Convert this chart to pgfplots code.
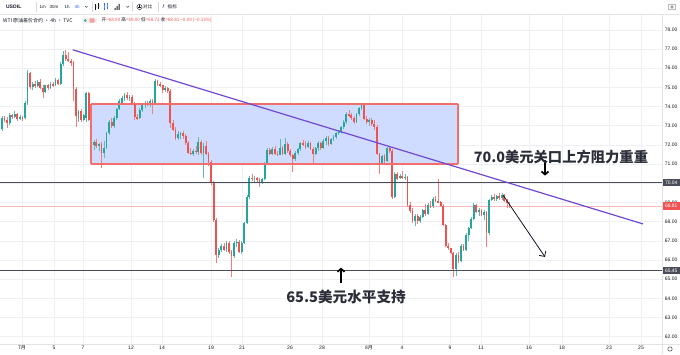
\documentclass[border=0pt]{standalone}
\usepackage{fontspec}
\setmainfont{Liberation Sans}
\newfontfamily\cjk{Noto Sans CJK SC}
\usepackage{pgfplots}
\pgfplotsset{compat=1.18}
\usepackage{pgfplotstable}
\usetikzlibrary{arrows.meta}
\definecolor{upcol}{HTML}{26A69A}
\definecolor{dncol}{HTML}{EF5350}
\definecolor{gridc}{HTML}{EEF0F4}
\definecolor{tvdark}{HTML}{131722}
\definecolor{tvgray}{HTML}{4A4D57}
\definecolor{trend}{RGB}{112,72,212}
\definecolor{tvblue}{HTML}{2962FF}
\definecolor{rectr}{RGB}{244,110,110}

\pgfplotstableread{
i o h l c
0 72.85 73.50 72.75 73.40
1 73.40 73.50 73.20 73.30
2 73.30 73.45 72.90 73.15
3 73.15 73.65 73.05 73.55
4 73.55 73.60 73.35 73.45
5 73.45 73.75 73.40 73.60
6 73.60 73.65 73.25 73.35
7 73.35 73.55 73.30 73.45
8 73.45 73.50 73.25 73.35
9 73.40 74.30 73.35 74.20
10 74.20 75.90 74.10 75.75
11 75.75 75.80 74.90 75.00
12 75.00 75.30 74.85 75.20
13 75.20 75.35 74.95 75.05
14 75.05 75.40 75.00 75.30
15 75.30 75.45 74.90 74.95
16 74.95 75.10 74.45 74.75
17 74.75 75.15 74.70 75.10
18 75.10 75.20 74.85 74.95
19 74.95 75.30 74.90 75.20
20 75.20 75.30 75.00 75.10
21 75.10 75.50 75.05 75.40
22 75.40 75.45 75.10 75.20
23 75.20 76.30 75.15 76.20
24 76.20 76.90 76.10 76.70
25 76.70 76.95 76.40 76.50
26 76.50 76.85 76.30 76.40
27 76.40 76.50 76.10 76.30
28 76.30 76.35 74.30 74.90
29 74.90 75.00 72.95 73.50
30 73.40 73.80 73.20 73.75
31 73.75 73.85 73.20 73.30
32 73.30 73.60 73.25 73.55
33 73.40 74.75 73.20 74.70
34 74.70 74.75 73.25 73.30
35 73.30 73.35 71.90 72.00
36 72.00 72.25 71.75 72.15
37 72.15 72.30 71.85 71.95
38 71.95 72.10 71.70 72.05
39 72.05 72.15 70.80 71.60
40 71.60 72.20 71.30 71.85
41 71.85 72.70 71.80 72.60
42 72.60 73.30 72.50 73.20
43 73.20 73.40 72.90 73.00
44 73.00 73.50 72.90 73.40
45 73.40 73.90 73.30 73.85
46 73.85 74.40 73.80 74.30
47 74.20 74.55 74.10 74.45
48 74.45 74.70 74.30 74.60
49 74.60 74.75 74.35 74.45
50 74.45 74.60 74.30 74.50
51 74.50 74.60 74.10 74.20
52 74.20 74.25 73.30 73.45
53 73.45 73.60 73.30 73.40
54 73.40 73.90 73.35 73.80
55 73.80 74.20 73.70 74.10
56 74.10 74.30 73.95 74.20
57 74.20 74.30 74.05 74.15
58 74.15 74.40 74.00 74.30
59 74.30 74.40 73.60 74.20
60 74.20 75.45 74.15 75.35
61 75.35 75.40 75.05 75.20
62 75.20 75.30 75.00 75.10
63 75.10 75.15 74.70 74.85
64 74.85 75.05 74.75 74.95
65 74.95 75.00 74.70 74.80
66 74.80 74.90 72.90 73.15
67 73.15 73.30 72.70 72.80
68 72.80 72.95 72.25 72.35
69 72.35 72.70 72.25 72.55
70 72.55 72.70 72.30 72.60
71 72.60 72.75 72.30 72.45
72 72.45 72.55 72.00 72.10
73 72.10 72.20 71.55 71.60
74 71.60 71.85 71.45 71.55
75 71.55 71.80 71.40 71.70
76 71.70 71.95 71.55 71.65
77 71.65 72.40 71.50 72.15
78 72.15 72.25 71.50 71.60
79 71.60 72.10 70.30 71.95
80 71.95 72.20 71.45 71.55
81 71.55 71.65 70.90 71.10
82 71.10 71.20 69.90 70.00
83 70.00 70.10 68.00 68.10
84 68.10 68.20 65.85 66.25
85 66.25 66.60 66.10 66.50
86 66.50 66.85 66.40 66.75
87 66.75 66.90 66.45 66.50
88 66.50 67.00 66.40 66.90
89 66.90 67.00 66.30 66.40
90 66.40 66.50 65.10 66.20
91 66.20 67.00 66.10 66.90
92 66.90 67.10 66.70 66.95
93 66.95 67.05 66.35 66.40
94 66.40 67.00 66.30 66.90
95 66.90 68.00 66.85 67.95
96 67.95 69.40 67.90 69.30
97 69.30 70.40 69.20 70.30
98 70.30 70.50 70.10 70.20
99 70.20 70.40 70.05 70.30
100 70.30 70.35 70.05 70.15
101 70.15 70.30 69.80 70.05
102 70.05 70.30 69.95 70.20
103 70.20 71.10 70.15 71.05
104 71.05 71.85 71.00 71.75
105 71.75 71.85 71.50 71.55
106 71.55 71.90 71.50 71.80
107 71.80 71.95 71.50 71.55
108 71.55 71.70 71.40 71.50
109 71.50 72.30 71.45 71.85
110 71.85 71.95 71.45 71.55
111 71.55 72.35 71.50 72.05
112 72.05 72.15 71.60 71.70
113 71.70 71.80 71.35 71.45
114 71.45 71.55 70.60 71.25
115 71.25 71.70 71.15 71.60
116 71.60 71.85 71.50 71.80
117 71.80 72.15 71.70 72.10
118 72.10 72.25 71.95 72.00
119 72.00 72.20 71.80 71.90
120 71.90 72.20 71.85 72.10
121 72.10 72.15 71.75 71.80
122 71.80 71.90 71.05 71.55
123 71.55 71.90 71.50 71.85
124 71.85 72.20 71.70 72.10
125 72.10 72.15 71.75 71.85
126 71.85 72.30 71.80 72.20
127 72.20 72.45 72.00 72.35
128 72.35 72.45 71.95 72.05
129 72.05 72.35 72.00 72.30
130 72.30 72.50 72.20 72.40
131 72.40 72.70 72.30 72.60
132 72.60 72.80 72.50 72.70
133 72.70 73.00 72.55 72.95
134 72.95 73.30 72.85 73.20
135 73.20 73.70 73.10 73.60
136 73.60 73.80 73.45 73.55
137 73.55 73.65 73.30 73.40
138 73.40 73.50 73.10 73.20
139 73.20 73.65 73.15 73.60
140 73.60 74.00 73.50 73.90
141 73.90 74.20 73.80 74.15
142 74.15 74.20 73.30 73.35
143 73.35 73.50 73.10 73.20
144 73.20 73.40 73.00 73.30
145 73.30 73.40 73.00 73.10
146 73.10 73.30 72.80 72.95
147 72.95 73.05 71.45 71.55
148 71.55 71.60 70.50 71.05
149 71.05 71.50 71.00 71.40
150 71.40 71.55 71.05 71.15
151 71.15 71.90 71.10 71.85
152 71.85 71.90 71.60 71.70
153 71.70 71.80 69.20 69.30
154 69.30 70.60 69.25 70.50
155 70.50 70.60 70.15 70.25
156 70.25 70.50 70.20 70.40
157 70.40 70.65 70.20 70.30
158 70.30 70.50 70.15 70.35
159 70.35 70.40 68.75 68.85
160 68.85 69.00 68.45 68.55
161 68.55 68.70 67.95 68.05
162 68.05 68.40 67.75 68.30
163 68.30 68.40 67.90 68.05
164 68.05 68.35 67.95 68.25
165 68.25 68.65 68.20 68.60
166 68.60 68.90 68.30 68.40
167 68.40 68.95 68.35 68.85
168 68.85 69.10 68.70 68.80
169 68.80 69.30 68.70 69.20
170 69.20 69.35 69.00 69.10
171 69.10 70.20 68.95 69.00
172 69.00 69.10 68.75 68.80
173 68.80 68.90 67.75 67.85
174 67.85 67.90 66.70 66.75
175 66.75 66.90 66.50 66.60
176 66.60 66.65 66.30 66.35
177 66.35 66.40 65.10 65.55
178 65.55 66.35 65.15 66.25
179 66.25 66.40 65.85 65.95
180 65.95 66.85 65.90 66.75
181 66.75 66.85 66.45 66.50
182 66.50 67.40 66.45 67.30
183 67.30 67.70 67.00 67.65
184 67.65 68.25 67.60 68.15
185 68.15 68.95 68.10 68.85
186 68.85 68.90 68.45 68.50
187 68.50 68.70 68.30 68.60
188 68.60 68.65 68.30 68.35
189 68.35 68.60 68.10 68.50
190 68.50 68.55 66.70 67.40
191 67.40 69.20 67.30 69.15
192 69.15 69.40 69.05 69.30
193 69.30 69.45 69.10 69.20
194 69.20 69.40 69.05 69.35
195 69.35 69.50 69.15 69.25
196 69.25 69.50 69.15 69.40
197 69.40 69.45 69.00 69.10
198 69.10 69.20 68.70 68.95
199 68.90 69.00 68.72 68.81
}\candles

\begin{document}
\begin{tikzpicture}[x=1pt,y=1pt]
\useasboundingbox (0,-10) rectangle (680,344);
\begin{axis}[
  at={(0,0)}, anchor=south west,
  scale only axis, width=662pt, height=329.5pt,
  xmin=0, xmax=662, ymin=61.62, ymax=78.8,
  clip=false,
  axis line style={draw=none},
  xtick={22,54,83,131,162,211,242,290,322,369,402,450,481,529,562,609,641},
  xticklabels={{\cjk 7月},5,7,12,14,19,21,26,28,{\cjk 8月},4,9,11,16,18,23,25},
  ytick={62,63,...,78},
  yticklabel pos=right,
  major tick length=0pt,
  grid=major, major grid style={gridc, line width=0.6pt},
  /pgf/number format/assume math mode=true,
  xticklabel style={font=\fontsize{5}{6}\selectfont, text=tvdark, inner sep=1.5pt},
  yticklabel style={font=\fontsize{5}{6}\selectfont, text=tvdark, anchor=west, inner sep=1.2pt, xshift=1.5pt,
     /pgf/number format/fixed, /pgf/number format/fixed zerofill, /pgf/number format/precision=2},
  candle/.style={draw=none, mark=none, forget plot},
]
% current price line
\addplot[dncol!40, line width=0.5pt, forget plot] coordinates {(0,68.81) (662,68.81)};
% rectangle zone fill (under candles)
\addplot[fill=tvblue!22, draw=none, forget plot]
  coordinates {(91,71.01) (458,71.01) (458,74.14) (91,74.14)} -- cycle;
% wicks
\addplot[candle,
  restrict expr to domain={\thisrow{c}-\thisrow{o}}{0:100},
  error bars/.cd, y dir=both, y explicit, error mark=none,
  error bar style={draw=upcol!75, line width=0.6pt}]
  table[x expr={2+2.55*\thisrow{i}}, y expr={(\thisrow{h}+\thisrow{l})/2}, y error expr={(\thisrow{h}-\thisrow{l})/2}]{\candles};
\addplot[candle,
  restrict expr to domain={\thisrow{c}-\thisrow{o}}{-100:-0.0001},
  error bars/.cd, y dir=both, y explicit, error mark=none,
  error bar style={draw=dncol!75, line width=0.6pt}]
  table[x expr={2+2.55*\thisrow{i}}, y expr={(\thisrow{h}+\thisrow{l})/2}, y error expr={(\thisrow{h}-\thisrow{l})/2}]{\candles};
% bodies
\addplot[candle,
  restrict expr to domain={\thisrow{c}-\thisrow{o}}{0:100},
  error bars/.cd, y dir=both, y explicit, error mark=none,
  error bar style={draw=upcol, line width=1.8pt}]
  table[x expr={2+2.55*\thisrow{i}}, y expr={(\thisrow{o}+\thisrow{c})/2}, y error expr={abs(\thisrow{c}-\thisrow{o})/2}]{\candles};
\addplot[candle,
  restrict expr to domain={\thisrow{c}-\thisrow{o}}{-100:-0.0001},
  error bars/.cd, y dir=both, y explicit, error mark=none,
  error bar style={draw=dncol, line width=1.8pt}]
  table[x expr={2+2.55*\thisrow{i}}, y expr={(\thisrow{o}+\thisrow{c})/2}, y error expr={abs(\thisrow{c}-\thisrow{o})/2}]{\candles};
% rectangle border
\addplot[color=rectr, line width=1.3pt, mark=none, forget plot]
  coordinates {(91,71.01) (458,71.01)};
\addplot[color=rectr, line width=1.3pt, mark=none, forget plot]
  coordinates {(91,74.14) (458,74.14)};
\addplot[color=rectr, line width=1.3pt, mark=none, forget plot]
  coordinates {(91,71.01) (91,74.14)};
\addplot[color=rectr, line width=1.3pt, mark=none, forget plot]
  coordinates {(458,71.01) (458,74.14)};
% horizontal levels
\addplot[tvgray, line width=1.5pt, forget plot] coordinates {(0,70.04) (662,70.04)};
\addplot[tvgray, line width=1.5pt, forget plot] coordinates {(0,65.45) (662,65.45)};
% trend line
\addplot[trend, line width=1.2pt, forget plot] coordinates {(72.7,76.96) (643,67.88)};
% projection arrow
\addplot[tvdark, line width=0.8pt, -{Straight Barb[length=4pt,width=8pt]}, forget plot] coordinates {(503,69.39) (545,66.16)};
% bold arrows
\addplot[black, line width=1.7pt, -{Straight Barb[length=3pt,width=7pt]}, forget plot] coordinates {(545,71.20) (545,70.40)};
\addplot[black, line width=1.7pt, -{Straight Barb[length=3pt,width=7pt]}, forget plot] coordinates {(341,64.80) (341,65.60)};
\end{axis}
% frame lines
\draw[gray!22, line width=0.6pt] (0,329.5) -- (680,329.5);
\draw[gray!22, line width=0.5pt] (662,-10) -- (662,329.5);
\draw[gray!22, line width=0.5pt] (0,0) -- (680,0);
% badges
\node[fill=tvgray, text=white, font=\fontsize{5}{6}\selectfont, inner sep=0pt, minimum height=7.5pt, minimum width=16.5pt, anchor=west] at (662.8,161.4) {70.04};
\node[fill=dncol, text=white, font=\fontsize{5}{6}\selectfont, inner sep=0pt, minimum height=7.5pt, minimum width=16.5pt, anchor=west] at (662.8,137.9) {68.81};
\node[fill=tvgray, text=white, font=\fontsize{5}{6}\selectfont, inner sep=0pt, minimum height=7.5pt, minimum width=16.5pt, anchor=west] at (662.8,73.4) {65.45};
% annotation texts
\node[font=\cjk\bfseries\fontsize{14.3}{16}\selectfont, text=tvdark!90] at (561,187) {70.0美元关口上方阻力重重};
\node[font=\cjk\bfseries\fontsize{14.6}{16}\selectfont, text=tvdark!90] at (346,47) {65.5美元水平支持};
% toolbar
\node[anchor=west, font=\bfseries\fontsize{5}{6}\selectfont, text=tvdark] at (2.5,337) {USOIL};
\foreach \xx in {36,92,132,158} \draw[gray!30, line width=0.4pt] (\xx,332) -- (\xx,342);
\node[anchor=west, font=\fontsize{4.5}{5}\selectfont, text=tvdark, inner sep=0pt] at (39.5,337) {1m};
\node[anchor=west, font=\fontsize{4.5}{5}\selectfont, text=tvdark, inner sep=0pt] at (49.5,337) {30m};
\node[anchor=west, font=\fontsize{4.5}{5}\selectfont, text=tvdark, inner sep=0pt] at (64.5,337) {1h};
\node[anchor=west, font=\fontsize{4.5}{5}\selectfont, text=tvblue, inner sep=0pt] at (74.5,337) {4h};
\draw[tvdark, line width=0.35pt] (85,338) -- (86.3,336.6) -- (87.6,338);
\draw[tvdark, line width=0.35pt] (95.5,334) -- (95.5,340) (98.5,335) -- (98.5,341);
\fill[tvdark] (95,335.5) rectangle (96,338.5) (98,336.5) rectangle (99,339.5);
\draw[tvblue, line width=0.4pt] (104.5,334) -- (104.5,340.5) (107.5,334.5) -- (107.5,341);
\fill[tvblue!70] (104,335.5) rectangle (105,338.5) (107,336.5) rectangle (108,339.5);
\fill[tvdark] (114.5,334) rectangle (115.5,336) (116.5,334) rectangle (117.5,338) (118.5,334) rectangle (119.5,340);
\draw[tvdark, line width=0.35pt] (126.5,338) -- (127.8,336.6) -- (129.1,338);
\draw[tvdark, line width=0.4pt] (139.5,337) circle (2.6pt);
\draw[tvdark, line width=0.4pt] (138,337) -- (141,337) (139.5,335.5) -- (139.5,338.5);
\node[anchor=west, font=\cjk\fontsize{4.6}{5}\selectfont, text=tvdark, inner sep=0pt] at (143,337) {对比};
\node[anchor=west, font=\itshape\fontsize{5}{5}\selectfont, text=tvdark, inner sep=0pt] at (162.5,337) {f};
\node[anchor=west, font=\cjk\fontsize{4.6}{5}\selectfont, text=tvdark, inner sep=0pt] at (167.5,337) {指标};
% camera icon
\draw[tvdark!80, line width=0.4pt, rounded corners=0.5pt] (668.5,334.5) rectangle (675.5,339.5);
\draw[tvdark!80, line width=0.4pt] (672,337) circle (1.4pt);
% legend row
\node[anchor=west, font=\cjk\fontsize{5}{6}\selectfont, text=tvdark, inner sep=0pt] at (3,323.5) {WTI 原油差价合约 · 4h · TVC};
\fill[gray!12, rounded corners=2.5pt] (81.5,320.5) rectangle (97,326.5);
\fill[upcol] (85.3,323.5) circle (1.4pt);
\fill[dncol!55, rounded corners=0.8pt] (89.5,321.3) rectangle (94.5,325.7);
\node[anchor=west, font=\cjk\fontsize{4.6}{5}\selectfont, text=dncol, inner sep=0pt] at (101.5,323.5) {{\color{tvdark}开}=68.90 {\color{tvdark}高}=69.00 {\color{tvdark}低}=68.72 {\color{tvdark}收}=68.81 −0.09 (−0.13\%)};
% gear icon
\draw[tvdark!80, line width=0.5pt] (670,-5) circle (2.2pt);
\end{tikzpicture}
\end{document}
